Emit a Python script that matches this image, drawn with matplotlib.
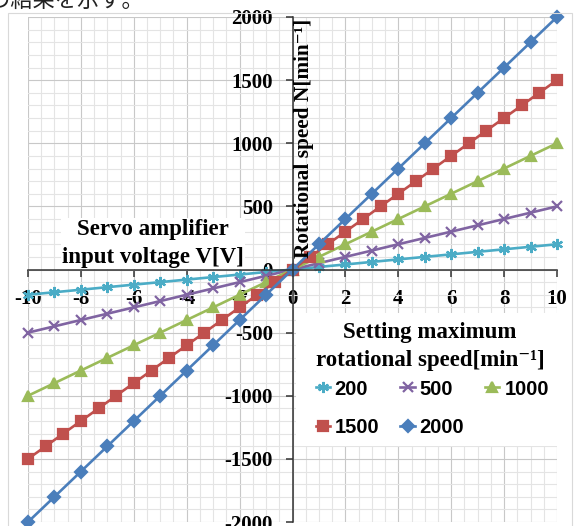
import numpy as np
import matplotlib
matplotlib.use("Agg")
import matplotlib.pyplot as plt
from matplotlib.ticker import MultipleLocator
from matplotlib.font_manager import FontProperties
from matplotlib.patches import Rectangle

# ---- données ----
tension = [-10, -9, -8, -7, -6, -5, -4, -3, -2, -1, 0, 1, 2, 3, 4, 5, 6, 7, 8, 9, 10]
n200 = [-200, -180, -160, -140, -120, -100, -80, -60, -40, -20, 0,
        20, 40, 60, 80, 100, 120, 140, 160, 180, 200]
n500 = [-500, -450, -400, -350, -300, -250, -200, -150, -100, -50, 0,
        50, 100, 150, 200, 250, 300, 350, 400, 450, 500]
n1000 = [-1000, -900, -800, -700, -600, -500, -400, -300, -200, -100, 0,
         100, 200, 300, 400, 500, 600, 700, 800, 900, 1000]
# la série 1500 a ses points tous les 100 min-1
tension1500 = [-10, -9.33, -8.67, -8, -7.33, -6.67, -6, -5.33, -4.67, -4,
               -3.33, -2.67, -2, -1.33, -0.67, 0, 0.67, 1.33, 2, 2.67, 3.33,
               4, 4.67, 5.33, 6, 6.67, 7.33, 8, 8.67, 9.33, 10]
n1500 = [-1500, -1400, -1300, -1200, -1100, -1000, -900, -800, -700, -600,
         -500, -400, -300, -200, -100, 0, 100, 200, 300, 400, 500,
         600, 700, 800, 900, 1000, 1100, 1200, 1300, 1400, 1500]
n2000 = [-2000, -1800, -1600, -1400, -1200, -1000, -800, -600, -400, -200, 0,
         200, 400, 600, 800, 1000, 1200, 1400, 1600, 1800, 2000]
series_labels = ["200", "500", "1000", "1500", "2000"]
xticks = [-10, -8, -6, -4, -2, 0, 2, 4, 6, 8, 10]
yticks = [-2000, -1500, -1000, -500, 0, 500, 1000, 1500, 2000]

couleurs = ["#4BACC6", "#8064A2", "#9BBB59", "#C0504D", "#4A7EBB"]
marqueurs = [(6, 2, 0), "x", "^", "s", "D"]
tailles = [8, 7, 7, 6.5, 6.5]

serif_b = dict(family=["Liberation Serif", "DejaVu Serif"], weight="bold")

fig = plt.figure(figsize=(5.76, 5.26), dpi=100)
W, H = 576, 526
ax = fig.add_axes([28 / W, 1 - 522 / H, (557 - 28) / W, (522 - 17) / H])

# cadre de la zone graphique (gris clair)
fig.patches.append(Rectangle((8 / W, -0.05), (572 - 8) / W, 1.05 - 13 / H,
                             transform=fig.transFigure, fill=False,
                             edgecolor="#d9d9d9", lw=0.8))

# texte japonais coupé en haut
fig.text(-12 / W, 1 - 7 / H, "の結果を示す。", family=["Noto Sans CJK JP"],
         fontsize=16, va="baseline", ha="left", color="#222222")

# courbes
xs = [tension, tension, tension, tension1500, tension]
lignes = []
for x, y, c, m, s, lab in zip(xs, [n200, n500, n1000, n1500, n2000], couleurs,
                              marqueurs, tailles, series_labels):
    l, = ax.plot(x, y, color=c, lw=1.9, marker=m, ms=s, mew=1.6,
                 mec=c, mfc=c, label=lab, clip_on=False)
    lignes.append(l)

ax.set_xlim(-10, 10)
ax.set_ylim(-2000, 2000)

# axes centrés sur zéro
ax.spines["left"].set_position(("data", 0))
ax.spines["bottom"].set_position(("data", 0))
ax.spines["top"].set_visible(False)
ax.spines["right"].set_visible(False)
for sp in ["left", "bottom"]:
    ax.spines[sp].set_color("#333333")
    ax.spines[sp].set_linewidth(1.1)

ax.set_xticks(xticks)
ax.set_yticks(yticks)
ax.set_xticklabels([str(v) for v in xticks])
ax.set_yticklabels([str(v) for v in yticks])
ax.xaxis.set_minor_locator(MultipleLocator(0.5))
ax.yaxis.set_minor_locator(MultipleLocator(100))
ax.tick_params(which="major", length=5, width=1.1, color="#333333",
               direction="out", pad=9)
ax.tick_params(which="minor", length=0)
for t in ax.get_xticklabels() + ax.get_yticklabels():
    t.set_fontproperties(FontProperties(size=15, **serif_b))

# quadrillage
ax.grid(which="major", color="#c8c8c8", lw=0.8)
ax.grid(which="minor", color="#e4e4e4", lw=0.8)
ax.set_axisbelow(True)

# titres des axes
ax.text(-5.27, 205, "Servo amplifier\ninput voltage V[V]", ha="center",
        va="center", multialignment="center", fontsize=16.5, linespacing=1.4,
        bbox=dict(facecolor="white", edgecolor="none", pad=1), **serif_b)
ax.text(0.45, 1990, "Rotational speed N[min⁻¹]", rotation=90, ha="center",
        va="top", fontsize=15.3, **serif_b)

# zone blanche de la légende
ax.add_patch(Rectangle((0.12, -1400), 9.88, 1055, facecolor="white",
                       edgecolor="none", zorder=1.5))
ax.text(5.2, -610, "Setting maximum\nrotational speed[min⁻¹]", ha="center",
        va="center", multialignment="center", fontsize=16.5, linespacing=1.4,
        zorder=3, **serif_b)

# légende (ordre ligne par ligne comme Excel)
ordre = [0, 3, 1, 4, 2]
leg = ax.legend([lignes[i] for i in ordre], [series_labels[i] for i in ordre],
                ncol=3, loc="upper left", bbox_to_anchor=(0.517, 0.31),
                prop=FontProperties(family="Liberation Sans", weight="bold", size=14.5),
                frameon=False, handlelength=0.7, handletextpad=0.25,
                columnspacing=1.05, labelspacing=0.95, borderpad=0.2)

plt.savefig("out.png", dpi=100)
